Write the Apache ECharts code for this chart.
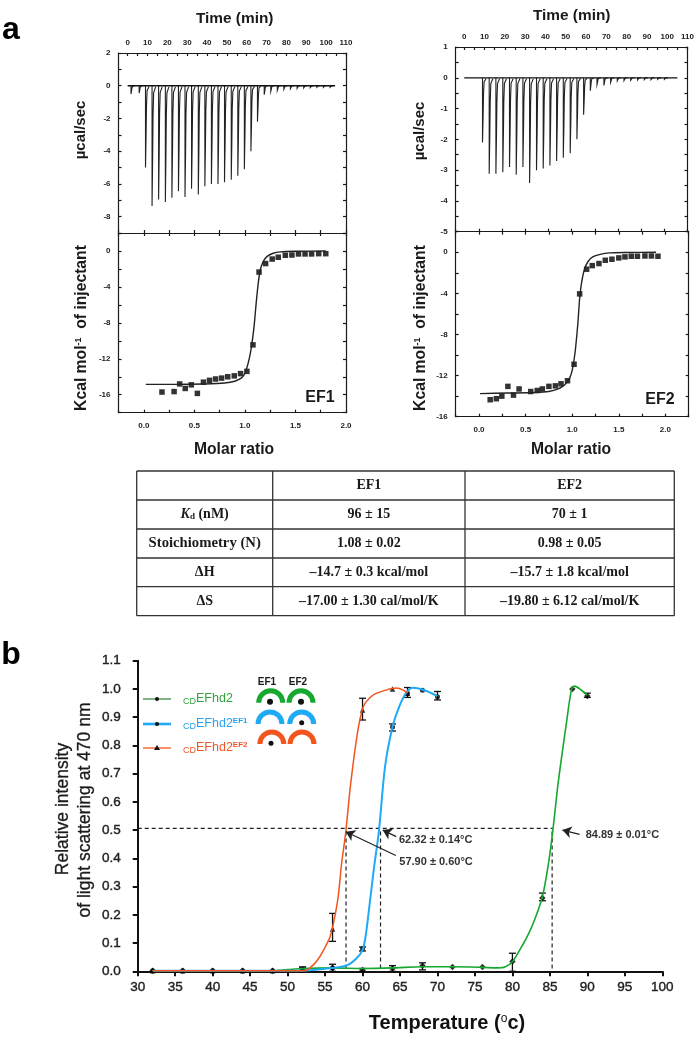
<!DOCTYPE html>
<html>
<head>
<meta charset="utf-8">
<style>
  html, body { margin: 0; padding: 0; background: #fff; }
  #main { width: 697px; height: 1044px; }
</style>
<script src="https://cdn.jsdelivr.net/npm/echarts@6/dist/echarts.min.js"></script>
</head>
<body>
<div id="main"></div>
<script>
// ---- panel a, raw heat peaks: [minute, depth]
var ef1Peaks = [[1.7,-0.5],[5.8,-0.45],[9,-5],[12.3,-7.35],[15.6,-6.95],[19,-7.1],[22.3,-6.85],[25.6,-6.45],[28.9,-6.8],[32.2,-6.3],[35.6,-6.65],[38.9,-6.15],[42.2,-6],[45.5,-6],[48.8,-5.9],[52.2,-5.75],[55.5,-5.5],[58.8,-5.1],[62.1,-4],[65.4,-2.2],[68.8,-0.55],[72.1,-0.35],[75.4,-0.28],[78.7,-0.22],[82,-0.18],[85.4,-0.16],[88.7,-0.14],[92,-0.12],[95.3,-0.1],[98.6,-0.1],[102,-0.1]];
var ef2Peaks = [[9,-2.1],[12.3,-3.12],[15.6,-3.12],[19,-3.07],[22.3,-2.9],[25.6,-3.15],[28.9,-2.9],[32.2,-3.42],[35.6,-3],[38.9,-2.95],[42.2,-2.85],[45.5,-2.7],[48.8,-2.6],[52.2,-2.45],[55.5,-2],[58.8,-1.2],[62.1,-0.42],[65.4,-0.22],[68.8,-0.25],[72.1,-0.15],[75.4,-0.1],[78.7,-0.09],[82,-0.08],[85.4,-0.07],[88.7,-0.06],[92,-0.06],[95.3,-0.05],[98.6,-0.05]];
var ef1Baseline = [[0,0],[104.5,0]];
var ef2Baseline = [[0,0],[2.5,0],[3,0.04],[3.6,0],[105,0]];

// ---- panel a, integrated heats and fits
var ef1Squares = [[0.18,-15.7],[0.3,-15.65],[0.355,-14.8],[0.41,-15.3],[0.47,-14.9],[0.53,-15.85],[0.59,-14.6],[0.65,-14.4],[0.71,-14.25],[0.77,-14.15],[0.83,-14],[0.895,-13.9],[0.957,-13.65],[1.02,-13.4],[1.08,-10.45],[1.14,-2.35],[1.205,-1.4],[1.27,-0.9],[1.33,-0.7],[1.4,-0.48],[1.465,-0.45],[1.53,-0.33],[1.595,-0.33],[1.66,-0.33],[1.73,-0.3],[1.8,-0.3]];
var ef1Fit = [[0.02,-14.85],[0.3,-14.85],[0.6,-14.8],[0.8,-14.7],[0.9,-14.5],[0.97,-14.1],[1,-13.6],[1.03,-12.6],[1.06,-11],[1.09,-8.5],[1.11,-6],[1.13,-3.8],[1.15,-2.2],[1.18,-1.2],[1.22,-0.6],[1.28,-0.25],[1.35,-0.1],[1.5,-0.03],[1.8,0]];
var ef2Squares = [[0.12,-14.35],[0.186,-14.25],[0.245,-14],[0.31,-13.05],[0.37,-13.9],[0.43,-13.3],[0.555,-13.55],[0.625,-13.45],[0.68,-13.3],[0.75,-13.05],[0.82,-13],[0.88,-12.8],[0.95,-12.5],[1.02,-10.9],[1.08,-4.05],[1.155,-1.65],[1.215,-1.3],[1.287,-1.1],[1.355,-0.78],[1.426,-0.68],[1.5,-0.55],[1.566,-0.45],[1.634,-0.39],[1.7,-0.39],[1.78,-0.36],[1.85,-0.36],[1.92,-0.39]];
var ef2Fit = [[0.01,-13.75],[0.3,-13.7],[0.6,-13.65],[0.75,-13.55],[0.85,-13.3],[0.92,-12.9],[0.97,-12.3],[1,-11.5],[1.03,-9.8],[1.06,-7],[1.08,-4.5],[1.1,-3],[1.13,-1.7],[1.17,-0.9],[1.22,-0.45],[1.3,-0.2],[1.4,-0.06],[1.6,-0.02],[1.9,0]];

// ---- table
var tableHead = ['', 'EF1', 'EF2'];
var tableRows = [
  ['{i|K}{s|d} (nM)', '96 ± 15', '70 ± 1'],
  ['Stoichiometry (N)', '1.08 ± 0.02', '0.98 ± 0.05'],
  ['ΔH', '–14.7 ± 0.3 kcal/mol', '–15.7 ± 1.8 kcal/mol'],
  ['ΔS', '–17.00 ± 1.30 cal/mol/K', '–19.80 ± 6.12 cal/mol/K']
];

// ---- panel b, measured points: [temperature, intensity]
var wtPoints = [[32,0.002],[36,0.002],[40,0.002],[44,0.002],[48,0.002],[52,0.005],[56,0.012],[60,0.005],[64,0.01],[68,0.02],[72,0.015],[76,0.015],[80,0.035],[84,0.26],[88,1],[90,0.975]];
var ef1Points = [[32,0.002],[36,0.002],[40,0.002],[44,0.002],[48,0.002],[52,0.003],[56,0.012],[60,0.08],[64,0.865],[66,0.985],[68,0.995],[70,0.972]];
var ef2Points = [[32,0.002],[36,0.002],[40,0.002],[44,0.002],[48,0.002],[52,0.005],[56,0.15],[60,0.925],[64,1],[66,0.985]];

// error bars: [temperature, low, high]
var wtErrors = [[52,0,0.015],[60,0,0.01],[64,0,0.02],[68,0.005,0.03],[80,0,0.064],[84,0.25,0.277],[90,0.97,0.985]];
var ef1Errors = [[56,0,0.025],[60,0.072,0.086],[64,0.851,0.876],[66,0.97,1.005],[70,0.961,0.991]];
var ef2Errors = [[52,0,0.015],[56,0.106,0.205],[60,0.89,0.967]];

// fitted curves
var wtCurve = [[32,0.002],[48,0.002],[50,0.006],[52,0.01],[56,0.012],[60,0.01],[64,0.012],[68,0.016],[72,0.016],[76,0.014],[78,0.012],[79,0.015],[80,0.034],[81.4,0.095],[82.2,0.135],[83,0.185],[84,0.264],[84.8,0.38],[85.4,0.5],[86.1,0.666],[87.2,0.878],[87.9,1],[88.3,1.01],[89.1,0.998],[90,0.978]];
var ef1Curve = [[32,0.002],[52,0.002],[56,0.012],[58,0.022],[59.2,0.046],[60,0.075],[60.4,0.122],[60.8,0.205],[61.5,0.36],[62.2,0.5],[63,0.724],[64,0.865],[64.9,0.937],[65.8,0.985],[66.7,1.004],[68,0.998],[70,0.975]];
var ef2Curve = [[32,0.002],[52.3,0.002],[53,0.012],[54,0.04],[55,0.085],[55.7,0.125],[56.2,0.18],[56.75,0.264],[57.2,0.38],[57.75,0.49],[58.4,0.66],[59.3,0.84],[60,0.93],[60.5,0.955],[61.5,0.98],[63,0.995],[64.5,1.003],[65.5,0.995],[66,0.985]];

var guideLines = [
  [[30,0.506],[85.4,0.506]],
  [[57.8,0.01],[57.8,0.506]],
  [[62.4,0.01],[62.4,0.506]],
  [[85.3,0.01],[85.3,0.506]]
];
// arrows: [tail, head]
var arrows = [
  [[64.5,0.477],[62.7,0.5]],
  [[88.97,0.485],[86.67,0.5]],
  [[64.44,0.41],[57.77,0.494]]
];

var SANS = '"Liberation Sans", Arial, sans-serif';
var SERIF = '"Liberation Serif", "Times New Roman", serif';
var GREEN = '#17a82f', BLUE = '#1eaaf5', ORANGE = '#f2561d';

var grids = [], xAxes = [], yAxes = [], series = [], graphics = [];

function steps(from, to, step) {
  var out = [];
  for (var v = from; v <= to + 1e-9; v += step) out.push(Math.round(v * 1000) / 1000);
  return out;
}

function addAxis(list, cfg) {
  var pos = cfg.position;
  var lineStyle = { color: '#1a1a1a', width: 1.2 };
  list.push({
    type: 'value',
    gridIndex: cfg.grid,
    position: pos,
    min: cfg.min,
    max: cfg.max,
    splitLine: { show: false },
    axisLine: { show: true, onZero: false, lineStyle: lineStyle },
    axisTick: { show: true, inside: true, length: 3, customValues: cfg.ticks, lineStyle: lineStyle },
    axisLabel: {
      show: !!cfg.labels,
      customValues: cfg.labels,
      margin: cfg.margin || 8,
      formatter: cfg.fmt,
      fontFamily: SANS,
      fontWeight: 'bold',
      fontSize: 8,
      color: '#222'
    }
  });
  return list.length - 1;
}

// one ITC column: thermogram on top, binding isotherm below
function addItcPanel(p) {
  var topGrid = grids.length;
  grids.push({ left: p.left, width: p.right - p.left, top: p.top, height: p.mid - p.top });
  grids.push({ left: p.left, width: p.right - p.left, top: p.mid, height: p.bottom - p.mid });
  var lowGrid = topGrid + 1;

  var tTop = addAxis(xAxes, { grid: topGrid, position: 'top', min: p.tMin, max: 110, ticks: steps(0, 110, 5), labels: steps(0, 110, 10), margin: 6 });
  addAxis(xAxes, { grid: topGrid, position: 'bottom', min: p.xMin, max: p.xMax, ticks: steps(p.xMin, p.xMax, 0.25) });
  var xLow = addAxis(xAxes, { grid: lowGrid, position: 'bottom', min: p.xMin, max: p.xMax, ticks: steps(p.xMin, p.xMax, 0.25), labels: steps(0, 2, 0.5), margin: 9, fmt: function (v) { return v.toFixed(1); } });
  addAxis(xAxes, { grid: lowGrid, position: 'top', min: p.xMin, max: p.xMax, ticks: steps(p.xMin, p.xMax, 0.25) });

  var yTop = addAxis(yAxes, { grid: topGrid, position: 'left', min: p.rawMin, max: p.rawMax, ticks: steps(p.rawMin, p.rawMax, p.rawMinor), labels: p.rawLabels });
  addAxis(yAxes, { grid: topGrid, position: 'right', min: p.rawMin, max: p.rawMax, ticks: steps(p.rawMin, p.rawMax, p.rawMinor) });
  var yLow = addAxis(yAxes, { grid: lowGrid, position: 'left', min: p.heatMin, max: 2, ticks: steps(p.heatMin, 2, 2), labels: [0, -4, -8, -12, -16] });
  addAxis(yAxes, { grid: lowGrid, position: 'right', min: p.heatMin, max: 2, ticks: steps(p.heatMin, 2, 2) });

  series.push({
    type: 'line', xAxisIndex: tTop, yAxisIndex: yTop, data: p.baseline, showSymbol: false, silent: true,
    lineStyle: { color: '#111', width: 1.3 }
  });
  series.push({
    type: 'custom', xAxisIndex: tTop, yAxisIndex: yTop, data: p.peaks, silent: true,
    encode: { x: 0, y: 1 },
    renderItem: function (params, api) {
      var t = api.value(0), d = api.value(1);
      var pts = [[t, 0], [t, d], [t + 0.3, d * 0.6], [t + 0.5, d * 0.25], [t + 0.8, d * 0.06], [t + 1.8, d * 0.01]];
      return {
        type: 'polyline',
        shape: { points: pts.map(function (q) { return api.coord(q); }) },
        style: { stroke: '#222', fill: null, lineWidth: 1.1 }
      };
    }
  });
  series.push({
    type: 'line', xAxisIndex: xLow, yAxisIndex: yLow, data: p.fit, showSymbol: false, smooth: 0.25, silent: true,
    lineStyle: { color: '#222', width: 1.4 }
  });
  series.push({
    type: 'scatter', xAxisIndex: xLow, yAxisIndex: yLow, data: p.squares, symbol: 'rect', symbolSize: 5.5, silent: true,
    itemStyle: { color: '#000' }
  });
}

addItcPanel({
  left: 118.5, right: 346, top: 53, mid: 233, bottom: 412.7,
  tMin: -4.6, xMin: -0.25, xMax: 2,
  rawMin: -9, rawMax: 2, rawMinor: 1, rawLabels: [2, 0, -2, -4, -6, -8], heatMin: -18,
  baseline: ef1Baseline, peaks: ef1Peaks, fit: ef1Fit, squares: ef1Squares
});
addItcPanel({
  left: 455.7, right: 688.7, top: 47, mid: 231.7, bottom: 416.7,
  tMin: -4.2, xMin: -0.25, xMax: 2.25,
  rawMin: -5, rawMax: 1, rawMinor: 0.5, rawLabels: [1, 0, -1, -2, -3, -4, -5], heatMin: -16,
  baseline: ef2Baseline, peaks: ef2Peaks, fit: ef2Fit, squares: ef2Squares
});

// ---- panel b axes
var bGrid = grids.length;
grids.push({ left: 137.7, width: 524.6, top: 660.7, height: 310.6 });
var bAxisStyle = { color: '#111', width: 2 };
var bLabel = { fontFamily: SANS, fontSize: 13.5, color: '#222', textBorderColor: '#222', textBorderWidth: 0.4 };
xAxes.push({
  type: 'value', gridIndex: bGrid, position: 'bottom', min: 30, max: 100, interval: 5,
  splitLine: { show: false },
  axisLine: { onZero: false, lineStyle: bAxisStyle },
  axisTick: { length: 5, lineStyle: bAxisStyle },
  axisLabel: Object.assign({ margin: 9 }, bLabel)
});
var bX = xAxes.length - 1;
yAxes.push({
  type: 'value', gridIndex: bGrid, position: 'left', min: 0, max: 1.1, interval: 0.1,
  splitLine: { show: false },
  axisLine: { onZero: false, lineStyle: bAxisStyle },
  axisTick: { length: 5, lineStyle: bAxisStyle },
  axisLabel: Object.assign({ margin: 17, formatter: function (v) { return v.toFixed(1); } }, bLabel)
});
var bY = yAxes.length - 1;

guideLines.forEach(function (g) {
  series.push({
    type: 'line', xAxisIndex: bX, yAxisIndex: bY, data: g, showSymbol: false, silent: true,
    lineStyle: { color: '#222', width: 1.2, type: [4, 3] }
  });
});

function addCurve(curve, color, width) {
  series.push({
    type: 'line', xAxisIndex: bX, yAxisIndex: bY, data: curve, showSymbol: false, smooth: 0.3, silent: true,
    lineStyle: { color: color, width: width }
  });
}
addCurve(wtCurve, GREEN, 1.6);
addCurve(ef1Curve, BLUE, 2);
addCurve(ef2Curve, ORANGE, 1.5);

function addErrors(errors) {
  series.push({
    type: 'custom', xAxisIndex: bX, yAxisIndex: bY, data: errors, silent: true,
    encode: { x: 0, y: [1, 2] },
    renderItem: function (params, api) {
      var lo = api.coord([api.value(0), api.value(1)]);
      var hi = api.coord([api.value(0), api.value(2)]);
      var st = { stroke: '#111', lineWidth: 1.3 };
      return {
        type: 'group',
        children: [
          { type: 'line', shape: { x1: lo[0], y1: lo[1], x2: hi[0], y2: hi[1] }, style: st },
          { type: 'line', shape: { x1: lo[0] - 3.5, y1: lo[1], x2: lo[0] + 3.5, y2: lo[1] }, style: st },
          { type: 'line', shape: { x1: hi[0] - 3.5, y1: hi[1], x2: hi[0] + 3.5, y2: hi[1] }, style: st }
        ]
      };
    }
  });
}
addErrors(wtErrors);
addErrors(ef1Errors);
addErrors(ef2Errors);

function addMarkers(points, symbol, size) {
  series.push({
    type: 'scatter', xAxisIndex: bX, yAxisIndex: bY, data: points, symbol: symbol, symbolSize: size, silent: true, clip: false,
    itemStyle: { color: '#000' }
  });
}
addMarkers(wtPoints, 'diamond', 6.5);
addMarkers(ef1Points, 'circle', 5);
addMarkers(ef2Points, 'triangle', 5.5);

series.push({
  type: 'line', xAxisIndex: bX, yAxisIndex: bY, data: [], silent: true,
  markLine: {
    silent: true, animation: false,
    symbol: ['none', 'arrow'], symbolSize: 9,
    label: { show: false },
    lineStyle: { color: '#222', width: 1.2, type: 'solid' },
    data: arrows.map(function (a) { return [{ coord: a[0] }, { coord: a[1] }]; })
  }
});

// ---- text and drawn decorations
function txt(x, y, text, o) {
  o = o || {};
  graphics.push({
    type: 'text', x: x, y: y, rotation: o.rot || 0, silent: true,
    style: {
      text: text,
      align: o.align || 'center',
      verticalAlign: 'middle',
      fontFamily: o.font || SANS,
      fontSize: o.size || 14,
      fontWeight: o.weight || 'normal',
      fill: o.color || '#1a1a1a',
      stroke: o.stroke ? (o.color || '#1a1a1a') : null,
      lineWidth: o.stroke || 0,
      rich: o.rich
    }
  });
}
function rule(x1, y1, x2, y2, color, width) {
  graphics.push({ type: 'line', silent: true, shape: { x1: x1, y1: y1, x2: x2, y2: y2 }, style: { stroke: color, lineWidth: width } });
}

txt(11, 30, 'a', { size: 32, weight: 'bold', color: '#000' });
txt(11, 655, 'b', { size: 32, weight: 'bold', color: '#000' });

var ROT = Math.PI / 2;
var supRich = {
  b: { fontFamily: SANS, fontWeight: 'bold', fontSize: 15.7, fill: '#1a1a1a' },
  u: { fontFamily: SANS, fontWeight: 'bold', fontSize: 9, fill: '#1a1a1a', padding: [0, 0, 6, 0] }
};
txt(234.7, 19, 'Time (min)', { size: 15.4, weight: 'bold' });
txt(571.7, 16, 'Time (min)', { size: 15.4, weight: 'bold' });
txt(81, 130, 'µcal/sec', { size: 15, weight: 'bold', rot: ROT });
txt(420, 131, 'µcal/sec', { size: 15, weight: 'bold', rot: ROT });
txt(81.7, 328, '{b|Kcal mol}{u|-1}{b|  of injectant}', { rot: ROT, rich: supRich });
txt(420.7, 328, '{b|Kcal mol}{u|-1}{b|  of injectant}', { rot: ROT, rich: supRich });
txt(234, 450, 'Molar ratio', { size: 15.7, weight: 'bold' });
txt(571, 450, 'Molar ratio', { size: 15.7, weight: 'bold' });
txt(320, 398, 'EF1', { size: 16, weight: 'bold' });
txt(660, 400, 'EF2', { size: 16, weight: 'bold' });

// table
var rowY = [471, 500, 529, 558, 586.7, 615.7];
var colX = [136.7, 272.7, 465, 674.3];
rowY.forEach(function (y) { rule(colX[0], y, colX[3], y, '#333', 1.3); });
colX.forEach(function (x) { rule(x, rowY[0], x, rowY[5], '#333', 1.3); });
var cellRich = {
  i: { fontFamily: SERIF, fontWeight: 'bold', fontStyle: 'italic', fontSize: 14, fill: '#1a1a1a' },
  s: { fontFamily: SERIF, fontWeight: 'bold', fontSize: 9, fill: '#1a1a1a', padding: [5, 0, 0, 0] }
};
[tableHead].concat(tableRows).forEach(function (row, r) {
  row.forEach(function (cell, c) {
    if (!cell) return;
    var size = (c === 0 && r === 2) ? 14.7 : 14;
    txt((colX[c] + colX[c + 1]) / 2, (rowY[r] + rowY[r + 1]) / 2, cell, { font: SERIF, size: size, weight: 'bold', rich: cellRich });
  });
});

// panel b texts
txt(63.3, 809, 'Relative intensity', { size: 17.5, rot: ROT, stroke: 0.3 });
txt(85, 810, 'of light scattering at 470 nm', { size: 17.5, rot: ROT, stroke: 0.3 });
txt(447, 1023, '{t|Temperature (}{o|o}{t|c)}', {
  rich: {
    t: { fontFamily: SANS, fontWeight: 'bold', fontSize: 20, fill: '#111' },
    o: { fontFamily: SANS, fontWeight: 'normal', fontSize: 12, fill: '#111', padding: [0, 0, 8, 0] }
  }
});
txt(399, 840, '62.32 ± 0.14°C', { size: 11, weight: 'bold', align: 'left', color: '#333' });
txt(399.3, 862.3, '57.90 ± 0.60°C', { size: 11, weight: 'bold', align: 'left', color: '#333' });
txt(585.7, 835, '84.89 ± 0.01°C', { size: 11, weight: 'bold', align: 'left', color: '#333' });

// legend block
function legendRow(y, lineColor, lineWidth, symbol, label, sup, textColor) {
  rule(143, y, 171, y, lineColor, lineWidth);
  if (symbol === 'triangle') {
    graphics.push({ type: 'polygon', silent: true, shape: { points: [[157, y - 3], [160, y + 2], [154, y + 2]] }, style: { fill: '#111' } });
  } else {
    graphics.push({ type: 'circle', silent: true, shape: { cx: 157, cy: y, r: 2 }, style: { fill: '#111' } });
  }
  var rich = {
    cd: { fontFamily: SANS, fontSize: 9, fill: textColor, padding: [5, 0, 0, 0] },
    n: { fontFamily: SANS, fontSize: 12.5, fill: textColor },
    up: { fontFamily: SANS, fontWeight: 'bold', fontSize: 8, fill: textColor, padding: [0, 0, 6, 0] }
  };
  var text = '{cd|CD}{n|' + label + '}' + (sup ? '{up|' + sup + '}' : '');
  txt(183, y, text, { align: 'left', rich: rich });
}
legendRow(699, '#2e7d32', 1.2, 'circle', 'EFhd2', '', '#2fa33a');
legendRow(724, BLUE, 2.6, 'circle', 'EFhd2', 'EF1', '#25a3ee');
legendRow(748, ORANGE, 1.3, 'triangle', 'EFhd2', 'EF2', '#f0562a');

txt(267, 682, 'EF1', { size: 10, weight: 'bold' });
txt(298, 682, 'EF2', { size: 10, weight: 'bold' });

function arch(cx, cy, color) {
  graphics.push({
    type: 'sector', silent: true,
    shape: { cx: cx, cy: cy, r: 14.5, r0: 9.5, startAngle: Math.PI, endAngle: 2 * Math.PI, clockwise: true },
    style: { fill: color }
  });
}
function dot(cx, cy, r) {
  graphics.push({ type: 'circle', silent: true, shape: { cx: cx, cy: cy, r: r }, style: { fill: '#111' } });
}
arch(270.7, 702.7, GREEN); arch(301, 702.7, GREEN);
dot(270, 701.7, 3); dot(301, 701.7, 3);
arch(270, 724, BLUE); arch(301.7, 724, BLUE);
dot(301.7, 722.7, 2.5);
arch(271.8, 744, ORANGE); arch(302, 744, ORANGE);
dot(271, 743.3, 2.5);

var chart = echarts.init(document.getElementById('main'));
chart.setOption({
  animation: false,
  backgroundColor: '#fff',
  grid: grids,
  xAxis: xAxes,
  yAxis: yAxes,
  series: series,
  graphic: { elements: graphics }
});
</script>
</body>
</html>
